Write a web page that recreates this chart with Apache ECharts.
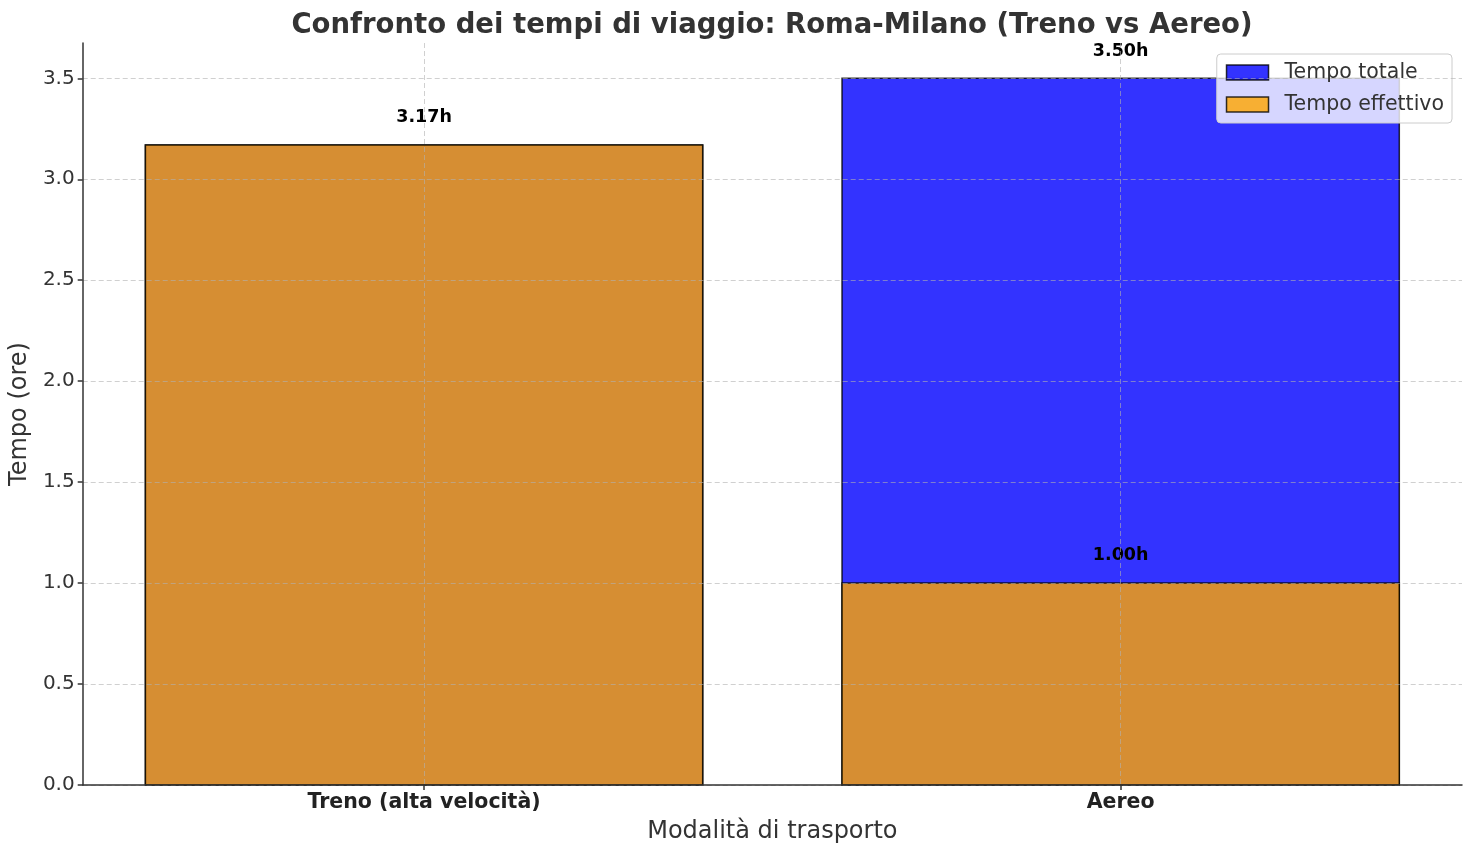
<!DOCTYPE html>
<html>
<head>
<meta charset="utf-8">
<script src="https://cdn.jsdelivr.net/npm/echarts@6/dist/echarts.min.js"></script>
<style>
  html, body { margin: 0; padding: 0; background: #fff; }
  #chart { width: 1474px; height: 855px; }
</style>
</head>
<body>
<div id="chart"></div>
<script>
// ---- data ----
const categories = ['Treno (alta velocità)', 'Aereo'];
const categoryPositions = [0, 1];
const tempoTotale = [3.17, 3.50];
const tempoEffettivo = [3.17, 1.00];
const yTicks = [0, 0.5, 1.0, 1.5, 2.0, 2.5, 3.0, 3.5];
const seriesNames = ['Tempo totale', 'Tempo effettivo'];

// ---- style ----
const FONT = 'DejaVu Sans';
const BAR_WIDTH = 0.8;
const LABEL_OFFSET = 0.1;
const COLORS = ['#0000ff', '#ffa500'];

function makeRender(color, values, skipValues) {
  return function (params, api) {
    const x = api.value(0), y = api.value(1);
    const p0 = api.coord([x - BAR_WIDTH / 2, y]);
    const p1 = api.coord([x + BAR_WIDTH / 2, 0]);
    const children = [{
      type: 'rect',
      shape: { x: p0[0], y: p0[1], width: p1[0] - p0[0], height: p1[1] - p0[1] },
      style: { fill: color, stroke: '#000', lineWidth: 1.5, opacity: 0.8 }
    }];
    const skip = skipValues && skipValues[params.dataIndex] === y;
    if (!skip) {
      const t = api.coord([x, y + LABEL_OFFSET]);
      children.push({
        type: 'text',
        z2: 10,
        style: {
          x: t[0], y: t[1] + 2, text: y.toFixed(2) + 'h',
          align: 'center', verticalAlign: 'bottom',
          font: 'bold 17.5px "' + FONT + '"', fill: '#000'
        }
      });
    }
    return { type: 'group', children: children };
  };
}

const chart = echarts.init(document.getElementById('chart'), null, { renderer: 'canvas' });
chart.setOption({
  animation: false,
  backgroundColor: '#fff',
  title: {
    text: 'Confronto dei tempi di viaggio: Roma-Milano (Treno vs Aereo)',
    left: 772, top: 12, padding: 0, textAlign: 'center',
    textStyle: { fontFamily: FONT, fontWeight: 'bold', fontSize: 27.5, color: '#333' }
  },
  legend: {
    orient: 'vertical', right: 22, top: 54,
    padding: [8, 8, 8, 9], itemGap: 11, itemWidth: 42, itemHeight: 15,
    backgroundColor: 'rgba(255,255,255,0.8)', borderColor: '#cccccc', borderWidth: 1, borderRadius: 4,
    textStyle: { fontFamily: FONT, fontSize: 20.5, color: '#333', padding: [0, 0, 0, 11] },
    data: seriesNames.map((n, i) => ({
      name: n, icon: 'rect',
      itemStyle: { color: COLORS[i], borderColor: '#000', borderWidth: 1.5, opacity: 0.8 }
    }))
  },
  grid: { left: 82, right: 12, top: 43, bottom: 70, containLabel: false },
  xAxis: {
    type: 'value', min: -0.49, max: 1.49, z: 5,
    name: 'Modalità di trasporto', nameLocation: 'middle', nameGap: 35,
    nameTextStyle: { fontFamily: FONT, fontSize: 24, color: '#333' },
    axisLine: { show: true, onZero: false, lineStyle: { color: '#333', width: 1.5 } },
    axisTick: { show: true, length: 5, customValues: categoryPositions, lineStyle: { color: '#333', width: 1.5 } },
    axisLabel: {
      customValues: categoryPositions, margin: 7,
      fontFamily: FONT, fontSize: 20.5, fontWeight: 'bold', color: '#222',
      formatter: v => categories[categoryPositions.indexOf(Math.round(v))] || ''
    },
    splitLine: { show: true, lineStyle: { color: 'rgba(176,176,176,0.6)', width: 1, type: [5, 3] } }
  },
  yAxis: {
    type: 'value', min: 0, max: 3.675, z: 5,
    name: 'Tempo (ore)', nameLocation: 'middle', nameGap: 42,
    nameTextStyle: { fontFamily: FONT, fontSize: 24, color: '#333' },
    axisLine: { show: true, onZero: false, lineStyle: { color: '#333', width: 1.5 } },
    axisTick: { show: true, length: 5, customValues: yTicks, lineStyle: { color: '#333', width: 1.5 } },
    axisLabel: {
      customValues: yTicks, margin: 8,
      fontFamily: FONT, fontSize: 20, color: '#333',
      formatter: v => v.toFixed(1)
    },
    splitLine: { show: true, lineStyle: { color: 'rgba(176,176,176,0.6)', width: 1, type: [5, 3] } }
  },
  series: [
    {
      name: seriesNames[0], type: 'custom', z: 2,
      itemStyle: { color: COLORS[0] },
      renderItem: makeRender(COLORS[0], tempoTotale, null),
      data: categoryPositions.map((x, i) => [x, tempoTotale[i]])
    },
    {
      name: seriesNames[1], type: 'custom', z: 3,
      itemStyle: { color: COLORS[1] },
      renderItem: makeRender(COLORS[1], tempoEffettivo, tempoTotale),
      data: categoryPositions.map((x, i) => [x, tempoEffettivo[i]])
    }
  ]
});
</script>
</body>
</html>
